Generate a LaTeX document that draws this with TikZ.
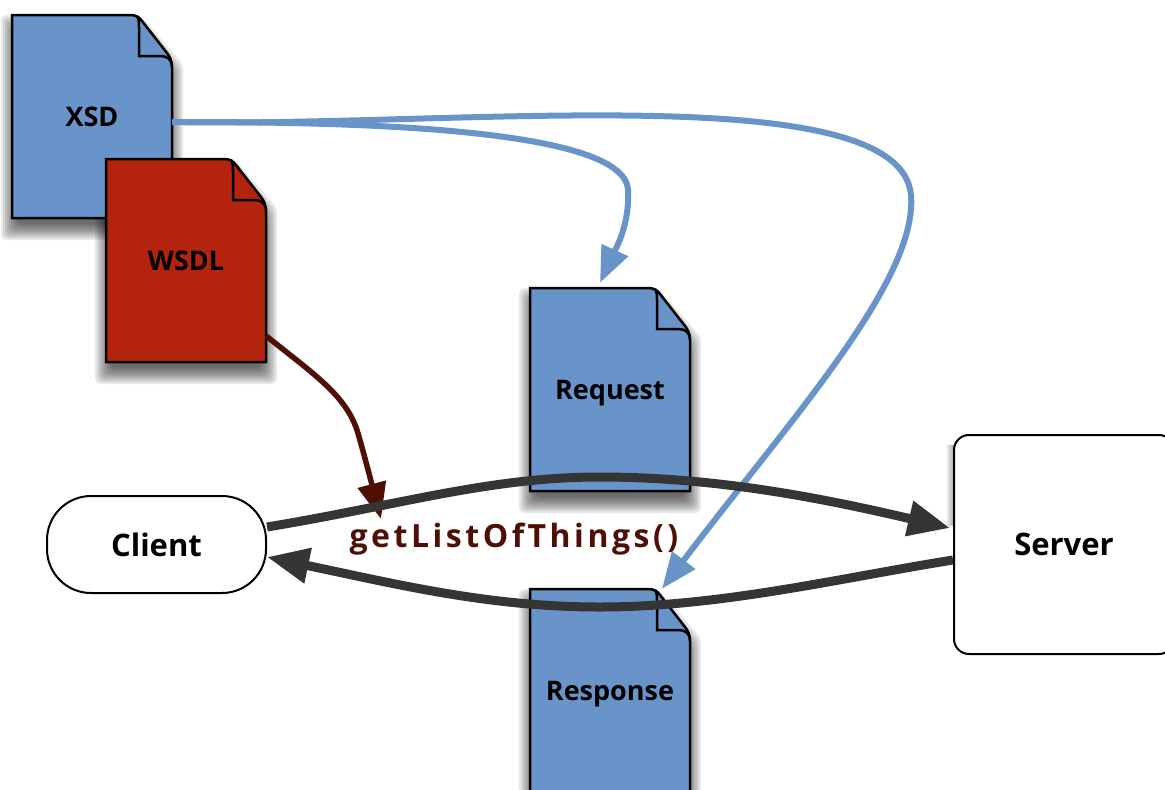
\documentclass[tikz,border=0pt]{standalone}
\usepackage{fontspec}
\setmainfont{Open Sans}
\newfontfamily\spacedfont[LetterSpace=11]{Open Sans}
\usetikzlibrary{arrows.meta}
\definecolor{docblue}{HTML}{6894C9}
\definecolor{docred}{HTML}{B3230D}
\definecolor{flowgray}{HTML}{353535}
\definecolor{callbrown}{HTML}{4F0F05}
\tikzset{
  doclabel/.style={minimum width=160pt,minimum height=203pt,inner sep=0pt,text height=20pt,text depth=0pt,font=\fontsize{27}{32}\selectfont\bfseries},
  endpoint/.style={draw,line width=2pt,fill=white,inner sep=0pt,font=\fontsize{31}{36}\selectfont\bfseries},
  xsdline/.style={docblue,line width=6pt,-{Triangle[length=36pt,width=28pt]}},
  wsdlline/.style={callbrown,line width=5.5pt,-{Triangle[length=36pt,width=28pt]}},
  flowline/.style={flowgray,line width=9pt,-{Triangle[length=42pt,width=34pt]}}
}
\newcommand{\docshadow}[2]{
  \foreach \r in {-5,-3,...,11}
    \fill[black,opacity=.09,rounded corners=5pt] (#1-\r,#2+11-\r) -- (#1+128,#2+11-\r) -- (#1+160+\r,#2+60-\r)
      -- (#1+160+\r,#2+214+\r) -- (#1-\r,#2+214+\r) -- cycle;
}
\newcommand{\docnode}[5]{
  \begin{scope}[shift={(#2,#3)}]
    \draw[line width=2.5pt,fill=#4] (0,0) -- (118,0) .. controls (124,0) and (127,2) .. (130,6) -- (155,38)
      .. controls (158,42) and (160,46) .. (160,52) -- (160,203) -- (0,203) -- cycle;
    \draw[line width=2.5pt] (125,1) .. controls (127,4) and (127,8) .. (127,12) -- (127,41) -- (148,41)
      .. controls (155,41) and (160,44) .. (160,52);
  \end{scope}
  \node[doclabel] (#1) at (#2+80,#3+101.5) {#5};
}
\begin{document}
\begin{tikzpicture}[x=1pt,y=-1pt]
\useasboundingbox (0,0) rectangle (1165,790);
% shadows go under everything
\docshadow{12}{15}
\docshadow{106}{159}
\docshadow{530}{288}
\docshadow{530}{589}
\shade[left color=white,right color=black!35] (945,445) rectangle (954,525);
% documents
\docnode{xsd}{12}{15}{docblue}{XSD}
\docnode{wsdl}{106}{159}{docred}{WSDL}
\docnode{request}{530}{288}{docblue}{Request}
\docnode{response}{530}{589}{docblue}{Response}
% endpoints
\node[endpoint,minimum width=219pt,minimum height=97pt,rounded corners=44pt] (client) at (156.5,544.5) {Client};
\node[endpoint,minimum width=220pt,minimum height=219pt,rounded corners=15pt] (server) at (1064,544.5) {Server};
\node[font=\fontsize{32}{36}\selectfont\bfseries\spacedfont,text=callbrown,inner sep=0pt] (call) at (514,539) {getListOfThings()};
\coordinate (callend) at (381,519);
% schema lines
\draw[xsdline] ([yshift=-5.5pt]xsd.east) .. controls (330,122) and (625,125) .. (628,190)
  .. controls (630,225) and (615,250) .. ([shift={(-10pt,5pt)}]request.north);
\draw[xsdline] ([yshift=-5.5pt]xsd.east) .. controls (450,128) and (900,75) .. (911,195)
  .. controls (918,280) and (790,420) .. ([xshift=52pt]response.north);
\draw[wsdlline] ([yshift=-75.5pt]wsdl.east) .. controls (315,375) and (345,395) .. (357,430)
  .. controls (363,450) and (372,485) .. (callend);
% request and response
\draw[flowline] ([yshift=17.5pt]client.east) .. controls (400,505) and (490,477) .. (600,477)
  .. controls (720,477) and (830,500) .. ([shift={(-3pt,16.5pt)}]server.west);
\draw[flowline] ([yshift=-15.5pt]server.west) .. controls (840,578) and (720,607) .. (600,607)
  .. controls (490,607) and (400,585) .. ([yshift=-12.5pt]client.east);
\end{tikzpicture}
\end{document}
